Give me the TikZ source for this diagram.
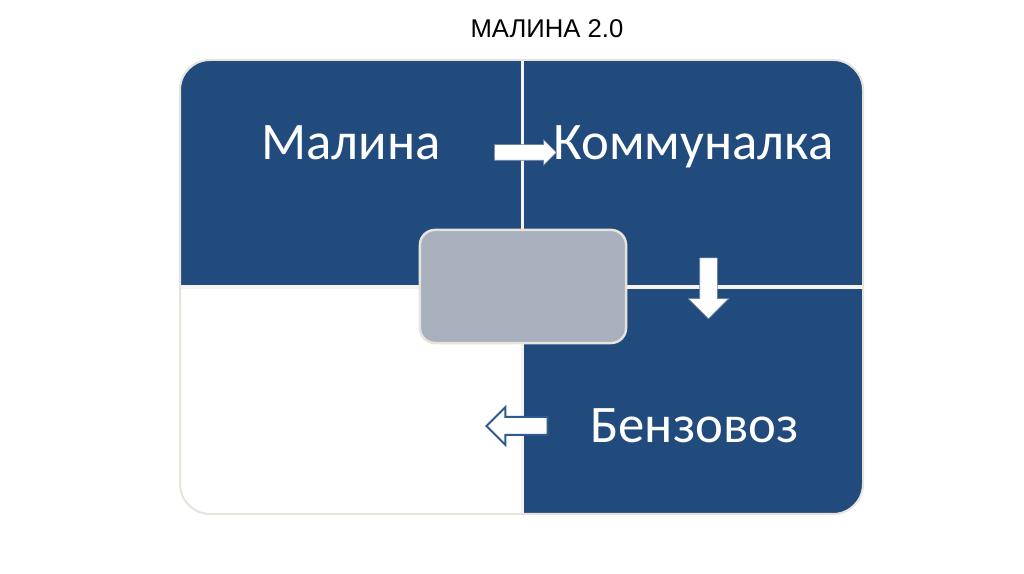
\documentclass[tikz,border=0pt]{standalone}
\usepackage{fontspec}
\newfontfamily\quadfont{Carlito}
\newfontfamily\titlefont{Liberation Sans}
\usepackage{tikz}
\usetikzlibrary{positioning,shapes.arrows}
\definecolor{qblue}{HTML}{214A7D}
\definecolor{qline}{HTML}{E6E4DA}
\definecolor{qgap}{HTML}{F4F3EE}
\definecolor{qhub}{HTML}{A9B0BD}
\definecolor{qarrowline}{HTML}{2E5A8E}
\definecolor{qshade}{HTML}{6C7FA3}
\tikzset{qtext/.style={text=white, font=\quadfont\fontsize{15}{18}\selectfont, anchor=base, inner sep=0pt}}
\tikzset{qtitle/.style={font=\titlefont\fontsize{7.3}{9}\selectfont, anchor=base, inner sep=0pt}}
\tikzset{qhubbox/.style={rectangle, rounded corners=0.15cm, draw=qline, line width=0.025cm, fill=qhub, minimum width=2.06cm, minimum height=1.13cm}}
\tikzset{qarrow/.style={single arrow, single arrow head indent=0pt, inner xsep=0pt, fill=white}}
\tikzset{qgapline/.style={draw=qgap, line width=0.035cm}}

\begin{document}
\begin{tikzpicture}[x=0.01cm, y=-0.01cm]
  \useasboundingbox (0,0) rectangle (1024,574);

  \node[qtitle] (title) at (547,38) {МАЛИНА 2.0};

  \begin{scope}
    \clip[rounded corners=0.3cm] (180,60) rectangle (863,514);
    \fill[qblue] (180,60) rectangle (522.5,287);
    \fill[qblue] (522.5,60) rectangle (863,287);
    \fill[qblue] (522.5,287) rectangle (863,514);
    \fill[white] (180,287) rectangle (522.5,514);
    \draw[qgapline] (522.5,60) -- (522.5,514);
    \draw[qgapline] (180,287) -- (863,287);
  \end{scope}
  \draw[qline, line width=0.02cm, rounded corners=0.3cm] (180,60) rectangle (863,514);

  \node[qtext] (malina) at (351,160) {Малина};
  \node[qtext] (kommunalka) at (693.5,160) {Коммуналка};
  \node[qtext] (benzovoz) at (694.5,443) {Бензовоз};

  \node[qhubbox] (hub) at (523,286.5) {};

  \node[qarrow, draw=qshade, line width=0.006cm, minimum height=0.62cm, inner ysep=0.075cm, minimum width=0.25cm, single arrow head extend=0.05cm] (toKomm) at (521.5,152.5) {};
  \node[qarrow, draw=qshade, line width=0.006cm, rotate=-90, minimum height=0.61cm, inner ysep=0.085cm, minimum width=0.4cm, single arrow head extend=0.115cm] (toBenz) at (708.5,284) {};
  \node[qarrow, draw=qarrowline, line width=0.02cm, rotate=180, minimum height=0.61cm, inner ysep=0.08cm, minimum width=0.36cm, single arrow head extend=0.1cm] (toLeft) at (521.5,426) {};
\end{tikzpicture}
\end{document}
